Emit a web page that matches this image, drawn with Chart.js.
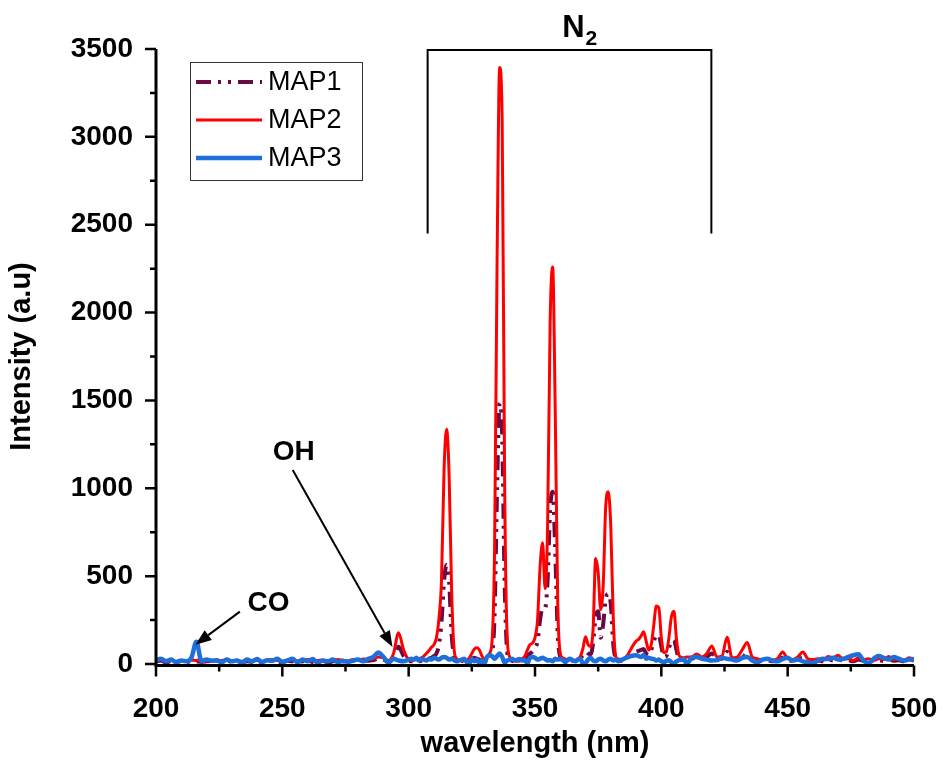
<!DOCTYPE html>
<html lang="en">
<head>
<meta charset="UTF-8">
<title>Emission spectra MAP1-3</title>
<script src="https://cdn.jsdelivr.net/npm/chart.js"></script>
<style>
  html, body { margin: 0; padding: 0; background: #fff; }
</style>
</head>
<body>
<canvas id="spectrum" width="942" height="773"></canvas>
<script>
// wavelength grid (nm): coarse below 300, 1 nm through the N2 bands, coarse again after 410
var wlA = [200,202,204,206,208,210,212,214,216,218,
           220,222,224,226,228,230,232,234,236,238,
           240,242,244,246,248,250,252,254,256,258,
           260,262,264,266,268,270,272,274,276,278,
           280,282,284,286,288,290,292,294,296,298,
           300];
var wlB = [301,302,303,304,305,306,307,308,309,310,
           311,312,313,314,315,316,317,318,319,320,
           321,322,323,324,325,326,327,328,329,330,
           331,332,333,334,335,336,337,338,339,340,
           341,342,343,344,345,346,347,348,349,350,
           351,352,353,354,355,356,357,358,359,360,
           361,362,363,364,365,366,367,368,369,370,
           371,372,373,374,375,376,377,378,379,380,
           381,382,383,384,385,386,387,388,389,390,
           391,392,393,394,395,396,397,398,399,400,
           401,402,403,404,405,406,407,408,409,410];
var wlC = [412,414,416,418,420,422,424,426,428,430,
           432,434,436,438,440,442,444,446,448,450,
           452,454,456,458,460,462,464,466,468,470,
           472,474,476,478,480,482,484,486,488,490,
           492,494,496,498,500];

// MAP1
var map1A = [15,20,8,18,12,15,10,18,15,12,
             15,18,10,15,20,12,18,8,15,12,
             18,10,15,20,12,10,18,15,12,15,
             20,12,15,18,10,15,20,15,12,18,
             15,20,18,22,30,25,15,40,98,45,
             20];
var map1B = [15,18,20,15,18,22,25,30,35,45,
             60,110,240,470,563,470,170,45,20,15,
             18,15,20,25,30,35,30,25,20,18,
             25,30,60,280,1000,1485,1300,450,70,25,
             18,15,18,20,25,30,45,60,70,90,
             130,250,320,320,480,880,980,650,170,40,
             25,20,18,15,18,20,25,35,50,70,
             60,55,120,270,300,150,230,370,400,340,
             110,30,20,18,20,30,40,50,60,70,
             75,80,85,60,50,80,130,160,165,100,
             40,45,90,130,137,80,30,25,22,25];
var map1C = [30,35,30,40,60,30,30,70,30,25,
             35,60,30,20,18,22,15,20,35,20,
             18,25,35,20,15,20,15,25,20,30,
             18,22,15,25,18,20,15,22,18,30,
             18,22,15,25,20];

// MAP2
var map2A = [25,30,20,25,15,20,18,22,20,25,
             18,22,15,20,25,18,22,15,25,18,
             20,15,22,25,20,15,22,25,18,20,
             25,18,20,22,15,20,25,20,18,25,
             22,28,25,30,40,35,20,60,178,80,
             25];
var map2B = [20,22,25,30,35,45,60,75,95,110,
             150,260,480,1100,1336,1080,420,80,30,22,
             20,18,20,35,60,85,92,80,45,30,
             40,60,130,650,2300,3395,3100,1000,150,40,
             25,18,15,18,30,45,80,110,119,150,
             250,550,690,430,800,1950,2260,1450,350,60,
             35,28,25,22,20,22,30,45,90,155,
             110,100,200,600,520,310,450,900,980,780,
             250,40,28,25,28,40,60,85,110,130,
             140,160,184,130,80,110,220,330,320,150,
             65,70,150,270,300,140,50,38,35,40];
var map2C = [40,57,40,60,102,40,45,152,35,40,
             80,123,40,30,25,30,22,30,68,30,
             25,40,68,30,25,30,20,42,35,50,
             25,30,20,35,25,30,20,30,25,42,
             25,30,20,35,28];

// MAP3
var map3A = [20,30,15,25,10,20,15,35,127,15,
             25,18,22,10,25,15,20,8,25,15,
             28,10,22,18,30,12,20,30,10,25,
             15,28,8,20,15,25,10,18,12,20,
             25,15,30,40,65,40,8,30,20,15,
             25];
var map3B = [30,25,35,20,30,25,20,30,25,35,
             30,25,35,40,35,25,30,22,15,20,
             25,30,10,5,28,15,25,5,20,3,
             40,50,45,30,45,60,40,8,20,25,
             30,20,25,28,20,22,5,35,40,35,
             25,30,35,28,20,22,15,30,25,28,
             22,10,25,30,20,15,25,30,0,5,
             25,35,20,15,25,30,20,15,25,30,
             20,25,15,22,28,35,40,45,48,50,
             45,40,51,30,35,30,28,20,25,15,
             10,18,22,10,3,15,22,25,28,0];
var map3C = [35,40,30,25,20,22,35,30,25,20,
             35,40,20,10,25,30,20,15,28,35,
             20,25,15,10,5,20,30,28,35,25,
             30,40,50,55,20,5,30,45,35,25,
             40,30,20,25,28];

var wavelength = wlA.concat(wlB, wlC);
var map1 = map1A.concat(map1B, map1C);
var map2 = map2A.concat(map2B, map2C);
var map3 = map3A.concat(map3B, map3C);

var xTicks = [200, 250, 300, 350, 400, 450, 500];
var yTicks = [0, 500, 1000, 1500, 2000, 2500, 3000, 3500];

function pts(vals) {
    return wavelength.map(function (w, i) { return {x: w, y: vals[i]}; });
}

var FONT = '"Liberation Sans", Arial, sans-serif';
var MAP1_DASH = [15, 7, 3, 7, 3, 7];

// axes, minor ticks, legend box and the peak labels
var decorations = {
    id: 'decorations',
    afterDraw: function (chart) {
        var ctx = chart.ctx, xs = chart.scales.x, ys = chart.scales.y, ca = chart.chartArea;
        var X = function (v) { return xs.getPixelForValue(v); };
        var Y = function (v) { return ys.getPixelForValue(v); };
        ctx.save();
        ctx.strokeStyle = '#000';
        ctx.fillStyle = '#000';

        // axis lines
        ctx.lineWidth = 3;
        ctx.beginPath();
        ctx.moveTo(ca.left, ca.top);
        ctx.lineTo(ca.left, ca.bottom + 1.5);
        ctx.lineTo(ca.right, ca.bottom + 1.5);
        ctx.stroke();

        // ticks (major + minor, pointing out)
        ctx.lineWidth = 2.5;
        ctx.beginPath();
        for (var v = 200; v <= 500; v += 25) {
            var len = (v % 50 === 0) ? 11 : 6;
            ctx.moveTo(X(v), ca.bottom + 1.5);
            ctx.lineTo(X(v), ca.bottom + 1.5 + len);
        }
        for (var u = 0; u <= 3500; u += 250) {
            var l2 = (u % 500 === 0) ? 11 : 6;
            ctx.moveTo(ca.left, Y(u));
            ctx.lineTo(ca.left - l2, Y(u));
        }
        ctx.stroke();

        // legend
        var lx = ca.left + 34, ly = ca.top + 13;
        ctx.lineWidth = 1;
        ctx.strokeStyle = '#333';
        ctx.strokeRect(lx + 0.5, ly + 0.5, 172, 118);
        var items = chart.data.datasets;
        ctx.font = '27px ' + FONT;
        ctx.textBaseline = 'middle';
        ctx.textAlign = 'left';
        for (var i = 0; i < items.length; i++) {
            var yy = ly + 20 + i * 38;
            ctx.strokeStyle = items[i].borderColor;
            ctx.lineWidth = items[i].borderWidth;
            ctx.setLineDash(items[i].borderDash || []);
            ctx.beginPath();
            ctx.moveTo(lx + 6, yy);
            ctx.lineTo(lx + 72, yy);
            ctx.stroke();
            ctx.setLineDash([]);
            ctx.fillText(items[i].label, lx + 78, yy + 1);
        }

        // N2 bracket
        ctx.strokeStyle = '#000';
        ctx.lineWidth = 2;
        ctx.beginPath();
        ctx.moveTo(X(307.5), Y(2450));
        ctx.lineTo(X(307.5), Y(3500) + 1);
        ctx.lineTo(X(419.8), Y(3500) + 1);
        ctx.lineTo(X(419.8), Y(2450));
        ctx.stroke();
        ctx.textBaseline = 'alphabetic';
        ctx.font = 'bold 31px ' + FONT;
        var nW = ctx.measureText('N').width;
        ctx.font = 'bold 21px ' + FONT;
        var sW = ctx.measureText('2').width;
        var nx = X(367.5) - (nW + sW) / 2;
        ctx.font = 'bold 31px ' + FONT;
        ctx.fillText('N', nx, Y(3500) - 12);
        ctx.font = 'bold 21px ' + FONT;
        ctx.fillText('2', nx + nW + 1, Y(3500) - 4);

        // OH and CO labels with arrows
        ctx.font = 'bold 28px ' + FONT;
        ctx.textAlign = 'center';
        ctx.textBaseline = 'middle';
        ctx.fillText('OH', X(254.5), Y(1206));
        ctx.fillText('CO', X(244.5), Y(347));
        arrow(ctx, X(254.1), Y(1104), X(293.6), Y(97));
        arrow(ctx, X(233.2), Y(298), X(215.6), Y(110));
        ctx.restore();
    }
};

function arrow(ctx, x1, y1, x2, y2) {
    var a = Math.atan2(y2 - y1, x2 - x1), hl = 16, hw = 6;
    var bx = x2 - hl * Math.cos(a), by = y2 - hl * Math.sin(a);
    ctx.lineWidth = 2;
    ctx.beginPath();
    ctx.moveTo(x1, y1);
    ctx.lineTo(bx, by);
    ctx.stroke();
    ctx.beginPath();
    ctx.moveTo(x2, y2);
    ctx.lineTo(bx + hw * Math.sin(a), by - hw * Math.cos(a));
    ctx.lineTo(bx - hw * Math.sin(a), by + hw * Math.cos(a));
    ctx.closePath();
    ctx.fill();
}

new Chart(document.getElementById('spectrum'), {
    type: 'line',
    data: {
        datasets: [
            { label: 'MAP1', data: pts(map1), borderColor: '#6a0a45', borderWidth: 4,
              borderDash: MAP1_DASH, order: 2 },
            { label: 'MAP2', data: pts(map2), borderColor: '#ff0000', borderWidth: 3, order: 1 },
            { label: 'MAP3', data: pts(map3), borderColor: '#1f6fdb', borderWidth: 4.5, order: 0 }
        ]
    },
    options: {
        responsive: false,
        devicePixelRatio: 1,
        animation: false,
        layout: { padding: { top: 49, right: 0, bottom: 0, left: 0 } },
        elements: {
            point: { radius: 0 },
            line: { cubicInterpolationMode: 'monotone', borderJoinStyle: 'round' }
        },
        plugins: { legend: { display: false }, tooltip: { enabled: false } },
        scales: {
            x: {
                type: 'linear', min: 200, max: 500,
                afterBuildTicks: function (s) { s.ticks = xTicks.map(function (v) { return {value: v}; }); },
                afterFit: function (s) { s.height = 109; s.paddingRight = 28; s.paddingLeft = 0; },
                grid: { display: false },
                border: { display: false },
                ticks: { color: '#000', padding: 20, maxRotation: 0,
                         callback: function (v) { return String(v); },
                         font: { family: FONT, size: 28, weight: 'bold' } },
                title: { display: true, text: 'wavelength (nm)', color: '#000',
                         padding: { top: 0, bottom: 12 },
                         font: { family: FONT, size: 29, weight: 'bold' } }
            },
            y: {
                min: 0, max: 3500,
                afterBuildTicks: function (s) { s.ticks = yTicks.map(function (v) { return {value: v}; }); },
                afterFit: function (s) { s.width = 156; },
                grid: { display: false },
                border: { display: false },
                ticks: { color: '#000', padding: 15,
                         callback: function (v) { return String(v); },
                         font: { family: FONT, size: 28, weight: 'bold' } },
                title: { display: true, text: 'Intensity (a.u)', color: '#000',
                         padding: { top: 5, bottom: 0 },
                         font: { family: FONT, size: 29, weight: 'bold' } }
            }
        }
    },
    plugins: [decorations]
});
</script>
</body>
</html>
